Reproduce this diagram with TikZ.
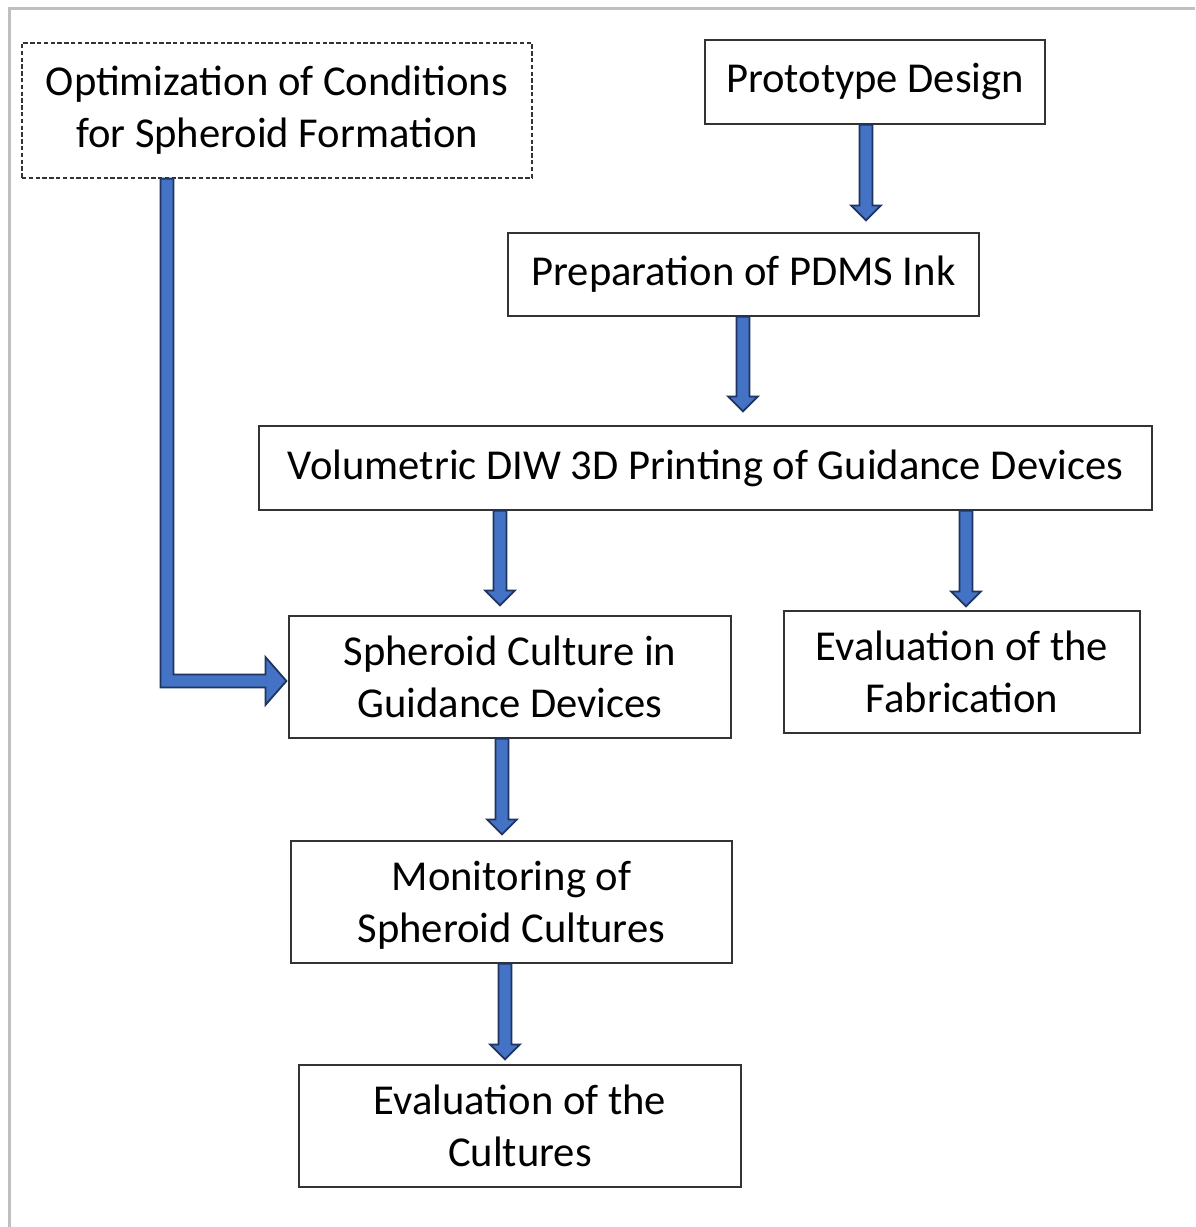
\documentclass[tikz,border=0pt]{standalone}
\usepackage{fontspec}
\setmainfont{Carlito}
\usetikzlibrary{calc}
\definecolor{arrowblue}{HTML}{4472C4}
\definecolor{arrownavy}{HTML}{1F3560}
\definecolor{framegray}{HTML}{BFBFBF}
\newcommand\vblk[2]{\path[barrow] let \p1=#1, \p2=#2 in
  (\x1-3.25pt,\y1) -- (\x1-3.25pt,\y2+7.5pt) -- (\x1-7.5pt,\y2+7.5pt) -- (\x1,\y2) --
  (\x1+7.5pt,\y2+7.5pt) -- (\x1+3.25pt,\y2+7.5pt) -- (\x1+3.25pt,\y1) -- cycle;}
\begin{document}
\begin{tikzpicture}[x=0.5pt,y=-0.5pt,
  box/.style={draw=black!80,line width=0.6pt,fill=white,inner sep=0pt,align=center,
    font=\fontsize{21.3}{26}\selectfont},
  twoline/.style={box,minimum height=61pt,text depth=-4pt},
  dbox/.style={box,dash pattern=on 2.2pt off 1.2pt},
  barrow/.style={fill=arrowblue,draw=arrownavy,line width=0.9pt,line join=miter}]
\useasboundingbox (0,0) rectangle (1195,1227);
\draw[framegray,line width=1.5pt] (9,1227) -- (9,8) -- (1195,8);

\node[dbox,minimum width=255pt,minimum height=67.5pt] (opt) at (277,110.5) {Optimization of Conditions\\for Spheroid Formation};
\node[box,minimum width=170pt,minimum height=42pt] (pd) at (875,82) {Prototype Design};
\node[box,minimum width=235.5pt,minimum height=41.5pt] (prep) at (743.5,274.5) {Preparation of PDMS Ink};
\node[box,minimum width=446.5pt,minimum height=42pt] (vol) at (705.5,468) {Volumetric DIW 3D Printing of Guidance Devices};
\node[twoline,minimum width=221pt] (sph) at (510,677) {Spheroid Culture in\\Guidance Devices};
\node[twoline,minimum width=178pt] (evf) at (962,672) {Evaluation of the\\Fabrication};
\node[twoline,minimum width=220.5pt] (mon) at (511.5,902) {Monitoring of\\Spheroid Cultures};
\node[twoline,minimum width=221pt] (evc) at (520,1126) {Evaluation of the\\Cultures};

\coordinate (a0) at (167,0);
\coordinate (a1) at (866,0);
\coordinate (a2) at (743,0);
\coordinate (a3) at (500,0);
\coordinate (a4) at (966,0);
\coordinate (a5) at (502,0);
\coordinate (a6) at (505,0);

\vblk{(a1 |- pd.south)}{($(a1 |- prep.north)+(0,-12)$)}
\vblk{(a2 |- prep.south)}{($(a2 |- vol.north)+(0,-14)$)}
\vblk{(a3 |- vol.south)}{($(a3 |- sph.north)+(0,-10)$)}
\vblk{(a4 |- vol.south)}{($(a4 |- evf.north)+(0,-4)$)}
\vblk{(a5 |- sph.south)}{($(a5 |- mon.north)+(0,-6)$)}
\vblk{(a6 |- mon.south)}{($(a6 |- evc.north)+(0,-5)$)}

\path[barrow] let \p1=(a0 |- opt.south), \p2=($(sph.west)+(-2,4)$) in
  (\x1-3.25pt,\y1) -- (\x1-3.25pt,\y2-3.25pt) -- (\x2-10.5pt,\y2-3.25pt) --
  (\x2-10.5pt,\y2-12pt) -- (\x2,\y2) -- (\x2-10.5pt,\y2+12pt) --
  (\x2-10.5pt,\y2+3.25pt) -- (\x1+3.25pt,\y2+3.25pt) -- (\x1+3.25pt,\y1) -- cycle;
\end{tikzpicture}
\end{document}
